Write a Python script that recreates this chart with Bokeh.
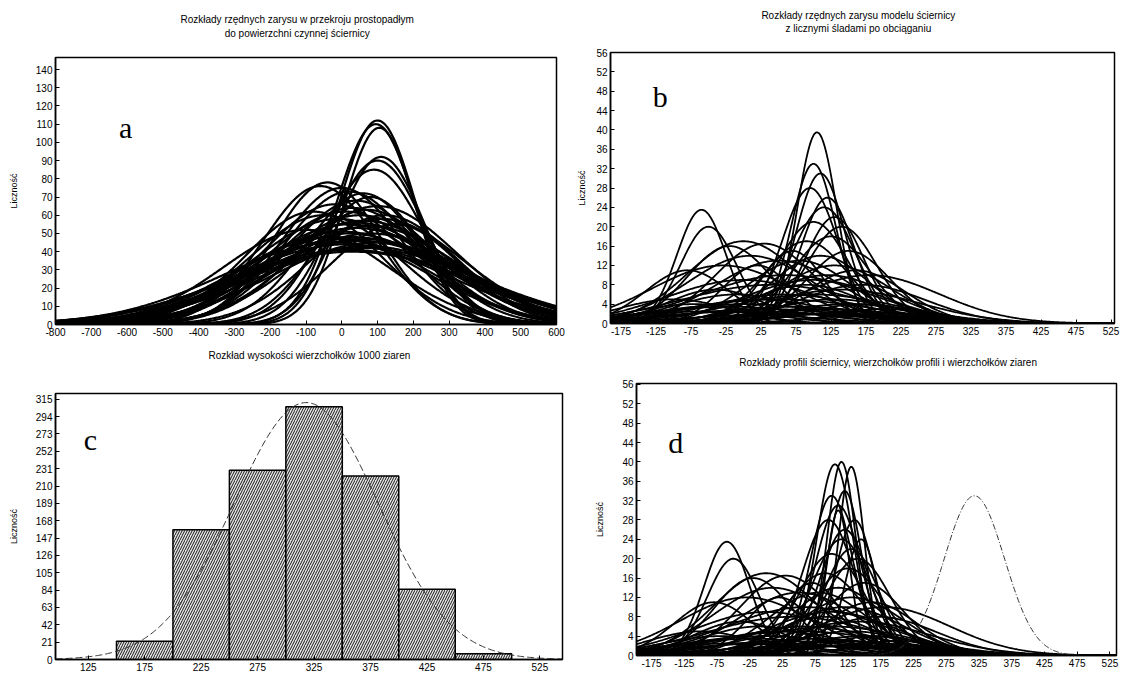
import numpy as np
from bokeh.plotting import figure
from bokeh.layouts import column, row
from bokeh.models import Label, Range1d, FixedTicker
from bokeh.core.properties import value
from bokeh.embed import file_html
from bokeh.resources import INLINE

# ---------------- data ----------------
# panel a: fitted normal curves (mean, sd, peak count)
a_means = [100, 95, 105, 110, 100, 90, -40, -60, 0, 20, 60, 80, 40, -20, 30, 70, 10, 50, -10, 60,
           20, 40, 0, 80, 30, 50, 10, 60, 20, 100, 120, -80, 150, -30, 90, -100, 0, 70,
           40, -50, 110, 20, 60, -20, 80, 30]
a_sds = [105, 110, 100, 120, 130, 140, 150, 160, 170, 180, 160, 150, 190, 200, 210, 200, 220, 230, 240, 250,
         260, 270, 280, 260, 290, 300, 310, 320, 330, 220, 200, 190, 180, 260, 280, 230, 250, 300,
         240, 210, 230, 270, 290, 310, 250, 340]
a_peaks = [112, 110, 108, 92, 90, 85, 78, 76, 75, 73, 72, 70, 68, 66, 64, 63, 62, 60, 58, 57,
           55, 53, 51, 50, 48, 46, 44, 42, 41, 65, 60, 62, 55, 48, 45, 52, 47, 43,
           56, 60, 58, 50, 47, 45, 54, 40]

# panel b: fitted normal curves
b_means = [-60, -50, -20, 0, 30, 10, -30, 50, 105, 100, 110, 95, 120, 115, 130, 100, 140, 125, 90, 150,
           110, 130, 160, 80, 120, 100, 170, 140, 60, 0, 40, 180, -80, 20, 70,
           -40, -10, 20, 60, 90, 130, 170, 200, -100, 0, 50, 100, 150,
           -70, -20, 30, 80, 120, 160, 10, 60, 110, -50, 140, 200]
b_sds = [35, 40, 60, 80, 70, 90, 100, 90, 28, 32, 35, 40, 38, 45, 42, 50, 50, 55, 60, 60,
         70, 80, 70, 75, 90, 100, 90, 110, 120, 110, 130, 100, 60, 50, 45,
         70, 90, 100, 110, 80, 90, 80, 70, 80, 130, 140, 120, 100,
         90, 110, 120, 100, 110, 90, 140, 130, 120, 120, 110, 90]
b_peaks = [23.5, 20, 16, 17, 16.5, 14, 12, 13, 39.5, 33, 31, 28, 26, 24, 22, 21, 20, 18, 17, 15,
           14, 12, 11, 13, 10, 9, 8, 7, 10, 9, 8, 10, 11, 12, 15,
           7, 6, 5, 6, 8, 5, 4, 3, 5, 4, 5, 6, 4,
           4, 3.5, 3, 3.5, 3, 2.5, 2.5, 2, 2, 2.5, 2, 2]

# panel c: histogram of grain-tip heights (1000 grains) + fitted normal curve
c_left = [150, 200, 250, 300, 350, 400, 450]
c_right = [200, 250, 300, 350, 400, 450, 500]
c_counts = [22, 157, 229, 306, 222, 85, 7]
c_mean, c_sd, c_peak = 318, 64, 311

# panel d: panel b curves plus extra profile-tip curves and the grain-tip curve
d_extra_means = [115, 130, 120, 135, 110, 145]
d_extra_sds = [22, 20, 26, 30, 18, 25]
d_extra_peaks = [40, 39, 34, 28, 30, 24]
d_grain_mean, d_grain_sd, d_grain_peak = 318, 46, 33

a_xticks = list(range(-800, 601, 100))
a_yticks = list(range(0, 141, 10))
b_xticks = list(range(-175, 526, 50))
b_yticks = list(range(0, 57, 4))
c_xticks = list(range(125, 526, 50))
c_yticks = list(range(0, 316, 21))

title_a = ["Rozkłady rzędnych zarysu w przekroju prostopadłym", "do powierzchni czynnej ściernicy"]
title_b = ["Rozkłady rzędnych zarysu modelu ściernicy", "z licznymi śladami po obciąganiu"]
title_c = ["Rozkład wysokości wierzchołków 1000 ziaren"]
title_d = ["Rozkłady profili ściernicy, wierzchołków profili i wierzchołków ziaren"]

FONT = "Liberation Sans"


def gauss(x, m, s, h):
    return h * np.exp(-0.5 * ((x - m) / s) ** 2)


def style(p, xt, yt, ylabel_standoff):
    p.xgrid.visible = False
    p.ygrid.visible = False
    p.outline_line_color = "black"
    p.outline_line_width = 1.5
    for ax, t in ((p.xaxis[0], xt), (p.yaxis[0], yt)):
        ax.axis_line_width = 1.5
        ax.major_tick_in = 4
        ax.major_tick_out = 0
        ax.minor_tick_line_color = None
        ax.major_label_text_font = FONT
        ax.major_label_text_font_size = "10px"
        ax.major_label_text_color = "black"
        ax.major_label_standoff = 3
        ax.ticker = FixedTicker(ticks=t)
        ax.major_label_overrides = {v: str(v) for v in t}
    p.yaxis[0].axis_label = "Liczność"
    p.yaxis[0].axis_label_text_font = FONT
    p.yaxis[0].axis_label_text_font_size = "9px"
    p.yaxis[0].axis_label_text_font_style = "normal"
    p.yaxis[0].axis_label_text_color = "black"
    p.yaxis[0].axis_label_standoff = ylabel_standoff


def title_fig(width, height, lines, cx, ys):
    # a plain strip (pixel coordinates, y downward) that carries a panel's title lines
    t = figure(width=width, height=height, x_range=Range1d(0, width), y_range=Range1d(height, 0),
               min_border=0, x_axis_location=None, y_axis_location=None,
               output_backend="svg", toolbar_location=None)
    t.xgrid.visible = False
    t.ygrid.visible = False
    t.outline_line_color = None
    t.text(x=[cx] * len(lines), y=ys, text=lines, text_font=value(FONT),
           text_font_size=value("10px"), text_align="center", text_baseline="middle",
           text_color="black")
    return t


def letter(p, x, y, t):
    p.add_layout(Label(x=x, y=y, text=t, text_font="Liberation Serif", text_font_size="30px",
                       text_align="center", text_baseline="middle", text_color="black"))


# ---------------- panel a ----------------
ta = title_fig(570, 40, title_a, 275, [19, 33])
pa = figure(width=570, height=305, x_range=Range1d(-800, 600), y_range=Range1d(0, 146.6),
            min_border_left=55, min_border_right=14, min_border_top=17, min_border_bottom=21,
            output_backend="svg", toolbar_location=None)
style(pa, a_xticks, a_yticks, 14)
xa = np.linspace(-800, 600, 500)
pa.multi_line([list(xa)] * len(a_means),
              [list(gauss(xa, m, s, h)) for m, s, h in zip(a_means, a_sds, a_peaks)],
              line_color="black", line_width=2.2)
letter(pa, -604, 108, "a")

# ---------------- panel b ----------------
tb = title_fig(551, 40, title_b, 271, [15, 28])
pb = figure(width=551, height=305, x_range=Range1d(-190, 530), y_range=Range1d(0, 56),
            min_border_left=40, min_border_right=7, min_border_top=12, min_border_bottom=22,
            output_backend="svg", toolbar_location=None)
style(pb, b_xticks, b_yticks, 6)
xb = np.linspace(-190, 530, 500)
pb.multi_line([list(xb)] * len(b_means),
              [list(gauss(xb, m, s, h)) for m, s, h in zip(b_means, b_sds, b_peaks)],
              line_color="black", line_width=1.8)
letter(pb, -119, 47, "b")

# ---------------- panel c ----------------
tc = title_fig(585, 30, title_c, 293, [10])
pc = figure(width=585, height=298, x_range=Range1d(96, 545), y_range=Range1d(0, 322),
            min_border_left=55, min_border_right=23, min_border_top=18, min_border_bottom=13,
            output_backend="svg", toolbar_location=None)
style(pc, c_xticks, c_yticks, 14)
pc.quad(left=c_left, right=c_right, bottom=0, top=c_counts,
        fill_color="#e6e6e6", hatch_pattern="/", hatch_color="black", hatch_scale=5,
        hatch_weight=0.9, line_color="black", line_width=1.5)
xc = np.linspace(96, 545, 400)
pc.line(xc, gauss(xc, c_mean, c_sd, c_peak), line_color="#333333", line_width=1, line_dash="7 3")
letter(pc, 127, 266, "c")

# ---------------- panel d ----------------
td = title_fig(536, 30, title_d, 281, [17])
pd_ = figure(width=536, height=298, x_range=Range1d(-198, 535), y_range=Range1d(0, 56.2),
             min_border_left=51, min_border_right=5, min_border_top=8, min_border_bottom=18,
             output_backend="svg", toolbar_location=None)
style(pd_, b_xticks, b_yticks, 14)
xd = np.linspace(-198, 535, 500)
dm = b_means + d_extra_means
ds = b_sds + d_extra_sds
dh = b_peaks + d_extra_peaks
pd_.multi_line([list(xd)] * len(dm),
               [list(gauss(xd, m, s, h)) for m, s, h in zip(dm, ds, dh)],
               line_color="black", line_width=1.8)
pd_.line(xd, gauss(xd, d_grain_mean, d_grain_sd, d_grain_peak), line_color="#333333",
         line_width=1, line_dash="6 2 1 2")
letter(pd_, -138, 44, "d")

layout = column(row(column(ta, pa), column(tb, pb)), row(column(tc, pc), column(td, pd_)))
open("out.html", "w").write(file_html(layout, INLINE))
